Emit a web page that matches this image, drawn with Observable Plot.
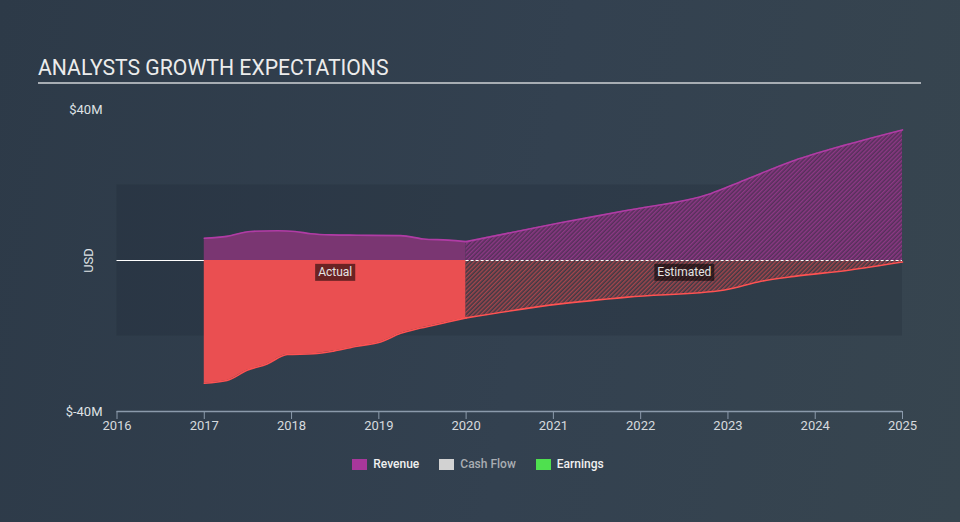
<!DOCTYPE html>
<html>
<head>
<meta charset="utf-8">
<script src="https://cdn.jsdelivr.net/npm/d3@7"></script>
<script src="https://cdn.jsdelivr.net/npm/@observablehq/plot@0.6"></script>
<style>
  html, body { margin: 0; padding: 0; }
  body {
    width: 960px; height: 522px; overflow: hidden; position: relative;
    background: linear-gradient(100deg, #2d3a48 0%, #334150 55%, #37454f 100%);
    font-family: Roboto, "Noto Sans", sans-serif;
  }
  #title {
    position: absolute; left: 38px; top: 56px; width: 883px;
    color: #ececec; font-size: 21.2px; letter-spacing: 0px; line-height: 24px;
    padding-bottom: 2px; border-bottom: 2px solid #a7adb3;
  }
  #chart { position: absolute; left: 0; top: 90px; }
  #legend {
    position: absolute; top: 457px; left: 0; width: 960px;
    display: flex; justify-content: center; gap: 0; font-size: 12px; font-weight: 500;
    padding-right: 4px; box-sizing: border-box;
  }
  .item { display: flex; align-items: center; margin: 0 10px; }
  .sw { width: 15px; height: 11px; margin-right: 6px; }
</style>
</head>
<body>
<div id="title">ANALYSTS GROWTH EXPECTATIONS</div>
<div id="chart"></div>
<div id="legend"></div>
<script>
// ---------- data (USD millions) ----------
const xDomain = [2016, 2025];
const yDomain = [-40, 40];
const yTicks = [-40, 40];
const xTicks = [2016, 2017, 2018, 2019, 2020, 2021, 2022, 2023, 2024, 2025];
const bandRange = [-20, 20];

const revenueActualYears = [2017.0, 2017.26, 2017.53, 2017.84, 2018.04, 2018.22, 2018.45, 2018.75, 2019.25, 2019.51, 2019.79, 2020.0];
const revenueActual      = [5.9, 6.4, 7.7, 7.9, 7.7, 7.1, 6.8, 6.7, 6.6, 5.7, 5.4, 5.0];
const revenueEstYears    = [2020.0, 2021.08, 2021.85, 2022.8, 2023.18, 2023.76, 2024.33, 2025.0];
const revenueEst         = [5.0, 10.0, 13.3, 17.7, 21.2, 26.5, 30.5, 34.6];

const earningsActualYears = [2017.0, 2017.26, 2017.49, 2017.72, 2017.95, 2018.25, 2018.48, 2018.75, 2019.02, 2019.25, 2019.48, 2019.79, 2020.0];
const earningsActual      = [-32.5, -31.8, -29.1, -27.4, -24.9, -24.7, -24.0, -22.7, -21.6, -19.3, -17.9, -16.3, -15.2];
const earningsEstYears    = [2020.0, 2021.08, 2021.85, 2022.96, 2023.38, 2023.76, 2024.4, 2025.0];
const earningsEst         = [-15.2, -11.5, -9.7, -7.8, -5.5, -4.2, -2.5, -0.4];

const periodLabels = ["Actual", "Estimated"];
const legendNames = ["Revenue", "Cash Flow", "Earnings"];
const legendColors = ["#a8379b", "#d2d2d2", "#4fe04f"];
const legendTextColors = ["#f0f0f0", "#a9adb2", "#f0f0f0"];

// ---------- build tables ----------
const rows = (xs, ys) => xs.map((x, i) => ({x, y: ys[i]}));
const revA = rows(revenueActualYears, revenueActual);
const revE = rows(revenueEstYears, revenueEst);
const earnA = rows(earningsActualYears, earningsActual);
const earnE = rows(earningsEstYears, earningsEst);
const split = revenueActualYears[revenueActualYears.length - 1];
const actualStart = revenueActualYears[0];
const labelRows = [
  {x: (actualStart + split) / 2, y: 0, t: periodLabels[0]},
  {x: (split + xDomain[1]) / 2, y: 0, t: periodLabels[1]}
];

const plot = Plot.plot({
  width: 960,
  height: 350,
  marginLeft: 116.5,
  marginRight: 58,
  marginTop: 19,
  marginBottom: 29,
  style: {background: "transparent", fontFamily: "Roboto, sans-serif", fontSize: "13px", color: "#d6dade"},
  x: {domain: xDomain},
  y: {domain: yDomain},
  marks: [
    Plot.rect([bandRange], {x1: () => xDomain[0], x2: () => xDomain[1], y1: d => d[0], y2: d => d[1], fill: "#1c2631", fillOpacity: 0.22}),
    Plot.ruleY([0], {x1: xDomain[0], x2: split, stroke: "#ffffff", strokeWidth: 1.2}),
    Plot.areaY(revA, {x: "x", y: "y", fill: "#7a3672", curve: "monotone-x"}),
    Plot.areaY(earnA, {x: "x", y: "y", fill: "#ea4f51", curve: "monotone-x"}),
    Plot.areaY(revE, {x: "x", y: "y", fill: "url(#hatchRev)", curve: "monotone-x"}),
    Plot.areaY(earnE, {x: "x", y: "y", fill: "url(#hatchEarn)", curve: "monotone-x"}),
    Plot.lineY(revA, {x: "x", y: "y", stroke: "#b03ca5", strokeWidth: 1.6, curve: "monotone-x"}),
    Plot.lineY(revE, {x: "x", y: "y", stroke: "#b03ca5", strokeWidth: 1.6, curve: "monotone-x"}),
    Plot.lineY(earnA, {x: "x", y: "y", stroke: "#ff5252", strokeWidth: 1.6, curve: "monotone-x"}),
    Plot.lineY(earnE, {x: "x", y: "y", stroke: "#ff5252", strokeWidth: 1.6, curve: "monotone-x"}),
    Plot.ruleY([0], {x1: split, x2: xDomain[1], stroke: "#ffffff", strokeWidth: 1.2, strokeDasharray: "3,2"}),
    Plot.text(labelRows, {x: "x", y: "y", text: "t", dy: 12, fill: "#e4e4e4", fontSize: 12}),
    Plot.ruleY([yDomain[0]], {stroke: "#8b9aab", strokeWidth: 1.3}),
    Plot.axisX({ticks: xTicks, tickFormat: d => String(d), tickSize: 8, tickPadding: 1.5, stroke: "#8b9aab", fill: "#d6dade", label: null}),
    Plot.axisY({ticks: yTicks, tickSize: 0, tickPadding: 14.5, tickFormat: d => `$${d}M`, fill: "#dfe2e5",
      label: "USD", labelAnchor: "center", labelArrow: "none", labelOffset: 33})
  ]
});

document.getElementById("chart").appendChild(plot);

// hatch patterns
const svg = d3.select(plot);
const defs = svg.insert("defs", ":first-child");
function hatch(id, base, line) {
  const p = defs.append("pattern").attr("id", id).attr("width", 3).attr("height", 3)
    .attr("patternUnits", "userSpaceOnUse").attr("patternTransform", "rotate(45)");
  p.append("rect").attr("width", 3).attr("height", 3).attr("fill", base);
  p.append("line").attr("x1", 0.75).attr("y1", 0).attr("x2", 0.75).attr("y2", 3)
    .attr("stroke", line).attr("stroke-width", 1.3);
}
hatch("hatchRev", "#55305a", "#93398a");
hatch("hatchEarn", "#3d3a45", "#b0464c");

// label backgrounds (placed with the same transform as the text)
svg.selectAll("text").filter(function () { return periodLabels.includes(this.textContent); })
  .each(function () {
    const b = this.getBBox();
    const r = d3.select(this.parentNode).insert("rect", () => this)
      .attr("x", b.x - 3).attr("y", b.y - 1.5).attr("width", b.width + 6).attr("height", b.height + 3)
      .attr("fill", "#000").attr("fill-opacity", 0.55);
    const tr = this.getAttribute("transform");
    if (tr) r.attr("transform", tr);
  });

// legend
const lg = d3.select("#legend");
legendNames.forEach((n, i) => {
  const it = lg.append("div").attr("class", "item");
  it.append("div").attr("class", "sw").style("background", legendColors[i]);
  it.append("span").text(n).style("color", legendTextColors[i]);
});
</script>
</body>
</html>
